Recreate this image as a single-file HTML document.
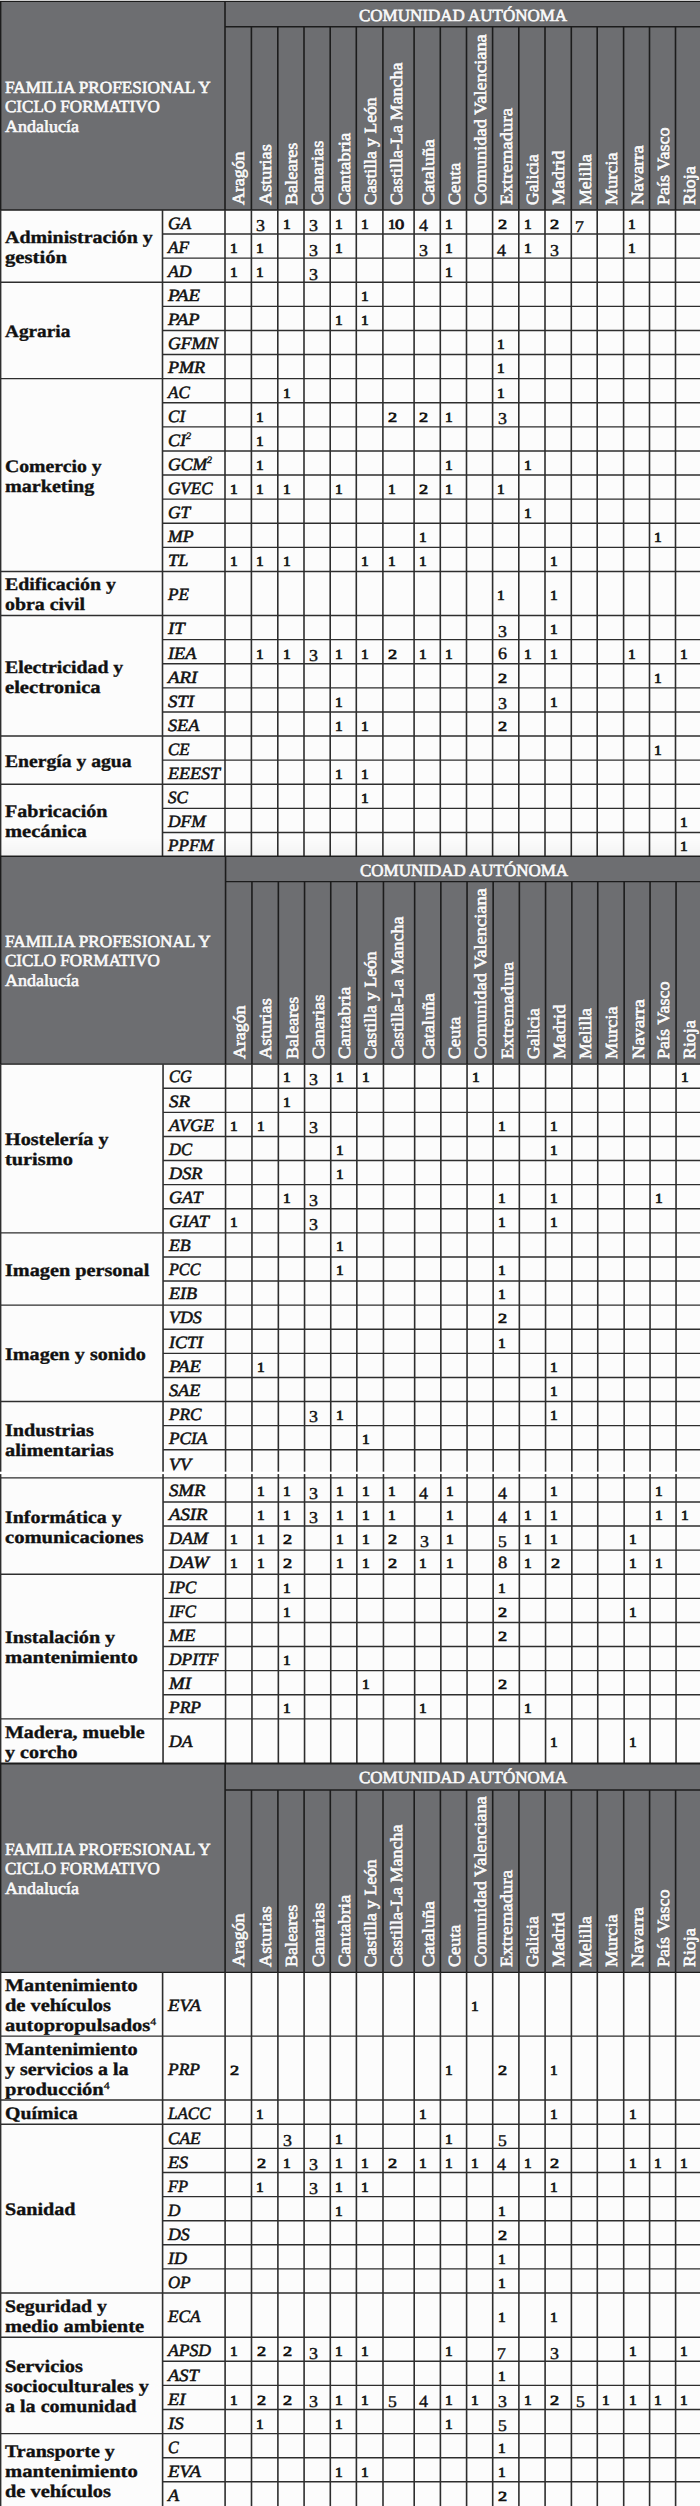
<!DOCTYPE html>
<html lang="es"><head><meta charset="utf-8"><title>Tabla ciclos formativos</title>
<style>
html,body{margin:0;padding:0;background:#fcfcfc;overflow:hidden;}
#p{position:relative;width:700px;height:2506px;overflow:hidden;background:#fcfcfc;font-family:"Liberation Serif",serif;}
#p svg{position:absolute;left:0;top:0;}
#p svg{overflow:visible;}
#tx{position:absolute;left:0;top:0;width:700px;height:2506px;}
.t{position:absolute;white-space:nowrap;line-height:1;transform-origin:0 0;margin:0;padding:0;text-rendering:geometricPrecision;}
.t sup{font-size:0.57em;vertical-align:baseline;position:relative;top:-0.72em;line-height:0;}
.cd sup{-webkit-text-stroke:0.4px #111;}
.fm sup{font-weight:normal;font-size:0.58em;top:-0.55em;-webkit-text-stroke:0.3px #111;}
.hd{font-size:17.0px;color:#fafafa;font-weight:normal;font-style:normal;-webkit-text-stroke:0.6px #fafafa;}
.fm{font-size:17.6px;color:#111;font-weight:bold;font-style:normal;-webkit-text-stroke:0.35px #111;}
.cd{font-size:17.2px;color:#111;font-weight:normal;font-style:italic;-webkit-text-stroke:0.55px #111;}
.dn{font-size:17.4px;color:#111;font-weight:normal;font-style:normal;}
.ds{font-size:14.0px;color:#111;font-weight:normal;font-style:normal;-webkit-text-stroke:0.7px #111;}
.dd{font-size:16.6px;color:#111;font-weight:normal;font-style:normal;-webkit-text-stroke:0.4px #111;}
.da{font-size:17.2px;color:#111;font-weight:normal;font-style:normal;-webkit-text-stroke:0.4px #111;}
.d4{font-size:17.2px;color:#111;font-weight:normal;font-style:normal;-webkit-text-stroke:0.4px #111;}
</style></head><body>
<div id="p">
<svg width="700" height="2506" viewBox="0 0 700 2506">
<rect x="-5.00" y="1.40" width="710.00" height="208.55" fill="#6d6e71"/><line x1="-5.00" y1="1.40" x2="705.00" y2="1.40" stroke="#1c1c1c" stroke-width="1.4"/><line x1="225.00" y1="26.80" x2="705.00" y2="26.80" stroke="#1c1c1c" stroke-width="1.4"/><line x1="-5.00" y1="209.95" x2="705.00" y2="209.95" stroke="#1c1c1c" stroke-width="1.4"/><line x1="0.60" y1="1.40" x2="0.60" y2="209.95" stroke="#1c1c1c" stroke-width="1.6"/><line x1="225.00" y1="1.40" x2="225.00" y2="209.95" stroke="#1c1c1c" stroke-width="1.6"/><line x1="251.40" y1="26.80" x2="251.40" y2="209.95" stroke="#1c1c1c" stroke-width="1.6"/><line x1="277.80" y1="26.80" x2="277.80" y2="209.95" stroke="#1c1c1c" stroke-width="1.6"/><line x1="304.00" y1="26.80" x2="304.00" y2="209.95" stroke="#1c1c1c" stroke-width="1.6"/><line x1="330.20" y1="26.80" x2="330.20" y2="209.95" stroke="#1c1c1c" stroke-width="1.6"/><line x1="356.30" y1="26.80" x2="356.30" y2="209.95" stroke="#1c1c1c" stroke-width="1.6"/><line x1="382.90" y1="26.80" x2="382.90" y2="209.95" stroke="#1c1c1c" stroke-width="1.6"/><line x1="414.10" y1="26.80" x2="414.10" y2="209.95" stroke="#1c1c1c" stroke-width="1.6"/><line x1="440.30" y1="26.80" x2="440.30" y2="209.95" stroke="#1c1c1c" stroke-width="1.6"/><line x1="466.50" y1="26.80" x2="466.50" y2="209.95" stroke="#1c1c1c" stroke-width="1.6"/><line x1="492.60" y1="26.80" x2="492.60" y2="209.95" stroke="#1c1c1c" stroke-width="1.6"/><line x1="518.80" y1="26.80" x2="518.80" y2="209.95" stroke="#1c1c1c" stroke-width="1.6"/><line x1="545.00" y1="26.80" x2="545.00" y2="209.95" stroke="#1c1c1c" stroke-width="1.6"/><line x1="571.30" y1="26.80" x2="571.30" y2="209.95" stroke="#1c1c1c" stroke-width="1.6"/><line x1="597.20" y1="26.80" x2="597.20" y2="209.95" stroke="#1c1c1c" stroke-width="1.6"/><line x1="623.60" y1="26.80" x2="623.60" y2="209.95" stroke="#1c1c1c" stroke-width="1.6"/><line x1="649.50" y1="26.80" x2="649.50" y2="209.95" stroke="#1c1c1c" stroke-width="1.6"/><line x1="675.50" y1="26.80" x2="675.50" y2="209.95" stroke="#1c1c1c" stroke-width="1.6"/><line x1="162.50" y1="234.05" x2="705.00" y2="234.05" stroke="#2e2e2e" stroke-width="1.4"/><line x1="162.50" y1="258.15" x2="705.00" y2="258.15" stroke="#2e2e2e" stroke-width="1.4"/><line x1="0.60" y1="282.25" x2="705.00" y2="282.25" stroke="#2e2e2e" stroke-width="1.4"/><line x1="162.50" y1="306.35" x2="705.00" y2="306.35" stroke="#2e2e2e" stroke-width="1.4"/><line x1="162.50" y1="330.45" x2="705.00" y2="330.45" stroke="#2e2e2e" stroke-width="1.4"/><line x1="162.50" y1="354.55" x2="705.00" y2="354.55" stroke="#2e2e2e" stroke-width="1.4"/><line x1="0.60" y1="378.65" x2="705.00" y2="378.65" stroke="#2e2e2e" stroke-width="1.4"/><line x1="162.50" y1="402.75" x2="705.00" y2="402.75" stroke="#2e2e2e" stroke-width="1.4"/><line x1="162.50" y1="426.85" x2="705.00" y2="426.85" stroke="#2e2e2e" stroke-width="1.4"/><line x1="162.50" y1="450.95" x2="705.00" y2="450.95" stroke="#2e2e2e" stroke-width="1.4"/><line x1="162.50" y1="475.05" x2="705.00" y2="475.05" stroke="#2e2e2e" stroke-width="1.4"/><line x1="162.50" y1="499.15" x2="705.00" y2="499.15" stroke="#2e2e2e" stroke-width="1.4"/><line x1="162.50" y1="523.25" x2="705.00" y2="523.25" stroke="#2e2e2e" stroke-width="1.4"/><line x1="162.50" y1="547.35" x2="705.00" y2="547.35" stroke="#2e2e2e" stroke-width="1.4"/><line x1="0.60" y1="571.45" x2="705.00" y2="571.45" stroke="#2e2e2e" stroke-width="1.4"/><line x1="0.60" y1="615.55" x2="705.00" y2="615.55" stroke="#2e2e2e" stroke-width="1.4"/><line x1="162.50" y1="639.65" x2="705.00" y2="639.65" stroke="#2e2e2e" stroke-width="1.4"/><line x1="162.50" y1="663.75" x2="705.00" y2="663.75" stroke="#2e2e2e" stroke-width="1.4"/><line x1="162.50" y1="687.85" x2="705.00" y2="687.85" stroke="#2e2e2e" stroke-width="1.4"/><line x1="162.50" y1="711.95" x2="705.00" y2="711.95" stroke="#2e2e2e" stroke-width="1.4"/><line x1="0.60" y1="736.05" x2="705.00" y2="736.05" stroke="#2e2e2e" stroke-width="1.4"/><line x1="162.50" y1="760.15" x2="705.00" y2="760.15" stroke="#2e2e2e" stroke-width="1.4"/><line x1="0.60" y1="784.25" x2="705.00" y2="784.25" stroke="#2e2e2e" stroke-width="1.4"/><line x1="162.50" y1="808.35" x2="705.00" y2="808.35" stroke="#2e2e2e" stroke-width="1.4"/><line x1="162.50" y1="832.45" x2="705.00" y2="832.45" stroke="#2e2e2e" stroke-width="1.4"/><line x1="0.60" y1="209.95" x2="0.60" y2="856.55" stroke="#2e2e2e" stroke-width="1.6"/><line x1="162.50" y1="209.95" x2="162.50" y2="856.55" stroke="#2e2e2e" stroke-width="1.6"/><line x1="225.00" y1="209.95" x2="225.00" y2="856.55" stroke="#2e2e2e" stroke-width="1.6"/><line x1="251.40" y1="209.95" x2="251.40" y2="856.55" stroke="#2e2e2e" stroke-width="1.6"/><line x1="277.80" y1="209.95" x2="277.80" y2="856.55" stroke="#2e2e2e" stroke-width="1.6"/><line x1="304.00" y1="209.95" x2="304.00" y2="856.55" stroke="#2e2e2e" stroke-width="1.6"/><line x1="330.20" y1="209.95" x2="330.20" y2="856.55" stroke="#2e2e2e" stroke-width="1.6"/><line x1="356.30" y1="209.95" x2="356.30" y2="856.55" stroke="#2e2e2e" stroke-width="1.6"/><line x1="382.90" y1="209.95" x2="382.90" y2="856.55" stroke="#2e2e2e" stroke-width="1.6"/><line x1="414.10" y1="209.95" x2="414.10" y2="856.55" stroke="#2e2e2e" stroke-width="1.6"/><line x1="440.30" y1="209.95" x2="440.30" y2="856.55" stroke="#2e2e2e" stroke-width="1.6"/><line x1="466.50" y1="209.95" x2="466.50" y2="856.55" stroke="#2e2e2e" stroke-width="1.6"/><line x1="492.60" y1="209.95" x2="492.60" y2="856.55" stroke="#2e2e2e" stroke-width="1.6"/><line x1="518.80" y1="209.95" x2="518.80" y2="856.55" stroke="#2e2e2e" stroke-width="1.6"/><line x1="545.00" y1="209.95" x2="545.00" y2="856.55" stroke="#2e2e2e" stroke-width="1.6"/><line x1="571.30" y1="209.95" x2="571.30" y2="856.55" stroke="#2e2e2e" stroke-width="1.6"/><line x1="597.20" y1="209.95" x2="597.20" y2="856.55" stroke="#2e2e2e" stroke-width="1.6"/><line x1="623.60" y1="209.95" x2="623.60" y2="856.55" stroke="#2e2e2e" stroke-width="1.6"/><line x1="649.50" y1="209.95" x2="649.50" y2="856.55" stroke="#2e2e2e" stroke-width="1.6"/><line x1="675.50" y1="209.95" x2="675.50" y2="856.55" stroke="#2e2e2e" stroke-width="1.6"/><rect x="-5.00" y="856.20" width="710.00" height="207.95" fill="#6d6e71"/><line x1="-5.00" y1="856.20" x2="705.00" y2="856.20" stroke="#1c1c1c" stroke-width="1.4"/><line x1="225.55" y1="881.60" x2="705.00" y2="881.60" stroke="#1c1c1c" stroke-width="1.4"/><line x1="-5.00" y1="1064.15" x2="705.00" y2="1064.15" stroke="#1c1c1c" stroke-width="1.4"/><line x1="0.60" y1="856.20" x2="0.60" y2="1064.15" stroke="#1c1c1c" stroke-width="1.6"/><line x1="225.55" y1="856.20" x2="225.55" y2="1064.15" stroke="#1c1c1c" stroke-width="1.6"/><line x1="251.95" y1="881.60" x2="251.95" y2="1064.15" stroke="#1c1c1c" stroke-width="1.6"/><line x1="278.35" y1="881.60" x2="278.35" y2="1064.15" stroke="#1c1c1c" stroke-width="1.6"/><line x1="304.55" y1="881.60" x2="304.55" y2="1064.15" stroke="#1c1c1c" stroke-width="1.6"/><line x1="330.75" y1="881.60" x2="330.75" y2="1064.15" stroke="#1c1c1c" stroke-width="1.6"/><line x1="356.85" y1="881.60" x2="356.85" y2="1064.15" stroke="#1c1c1c" stroke-width="1.6"/><line x1="383.45" y1="881.60" x2="383.45" y2="1064.15" stroke="#1c1c1c" stroke-width="1.6"/><line x1="414.65" y1="881.60" x2="414.65" y2="1064.15" stroke="#1c1c1c" stroke-width="1.6"/><line x1="440.85" y1="881.60" x2="440.85" y2="1064.15" stroke="#1c1c1c" stroke-width="1.6"/><line x1="467.05" y1="881.60" x2="467.05" y2="1064.15" stroke="#1c1c1c" stroke-width="1.6"/><line x1="493.15" y1="881.60" x2="493.15" y2="1064.15" stroke="#1c1c1c" stroke-width="1.6"/><line x1="519.35" y1="881.60" x2="519.35" y2="1064.15" stroke="#1c1c1c" stroke-width="1.6"/><line x1="545.55" y1="881.60" x2="545.55" y2="1064.15" stroke="#1c1c1c" stroke-width="1.6"/><line x1="571.85" y1="881.60" x2="571.85" y2="1064.15" stroke="#1c1c1c" stroke-width="1.6"/><line x1="597.75" y1="881.60" x2="597.75" y2="1064.15" stroke="#1c1c1c" stroke-width="1.6"/><line x1="624.15" y1="881.60" x2="624.15" y2="1064.15" stroke="#1c1c1c" stroke-width="1.6"/><line x1="650.05" y1="881.60" x2="650.05" y2="1064.15" stroke="#1c1c1c" stroke-width="1.6"/><line x1="676.05" y1="881.60" x2="676.05" y2="1064.15" stroke="#1c1c1c" stroke-width="1.6"/><line x1="163.05" y1="1088.25" x2="705.00" y2="1088.25" stroke="#2e2e2e" stroke-width="1.4"/><line x1="163.05" y1="1112.35" x2="705.00" y2="1112.35" stroke="#2e2e2e" stroke-width="1.4"/><line x1="163.05" y1="1136.45" x2="705.00" y2="1136.45" stroke="#2e2e2e" stroke-width="1.4"/><line x1="163.05" y1="1160.55" x2="705.00" y2="1160.55" stroke="#2e2e2e" stroke-width="1.4"/><line x1="163.05" y1="1184.65" x2="705.00" y2="1184.65" stroke="#2e2e2e" stroke-width="1.4"/><line x1="163.05" y1="1208.75" x2="705.00" y2="1208.75" stroke="#2e2e2e" stroke-width="1.4"/><line x1="0.60" y1="1232.85" x2="705.00" y2="1232.85" stroke="#2e2e2e" stroke-width="1.4"/><line x1="163.05" y1="1256.95" x2="705.00" y2="1256.95" stroke="#2e2e2e" stroke-width="1.4"/><line x1="163.05" y1="1281.05" x2="705.00" y2="1281.05" stroke="#2e2e2e" stroke-width="1.4"/><line x1="0.60" y1="1305.15" x2="705.00" y2="1305.15" stroke="#2e2e2e" stroke-width="1.4"/><line x1="163.05" y1="1329.25" x2="705.00" y2="1329.25" stroke="#2e2e2e" stroke-width="1.4"/><line x1="163.05" y1="1353.35" x2="705.00" y2="1353.35" stroke="#2e2e2e" stroke-width="1.4"/><line x1="163.05" y1="1377.45" x2="705.00" y2="1377.45" stroke="#2e2e2e" stroke-width="1.4"/><line x1="0.60" y1="1401.55" x2="705.00" y2="1401.55" stroke="#2e2e2e" stroke-width="1.4"/><line x1="163.05" y1="1425.65" x2="705.00" y2="1425.65" stroke="#2e2e2e" stroke-width="1.4"/><line x1="163.05" y1="1449.75" x2="705.00" y2="1449.75" stroke="#2e2e2e" stroke-width="1.4"/><line x1="0.60" y1="1477.85" x2="705.00" y2="1477.85" stroke="#2e2e2e" stroke-width="1.4"/><line x1="163.05" y1="1501.95" x2="705.00" y2="1501.95" stroke="#2e2e2e" stroke-width="1.4"/><line x1="163.05" y1="1526.05" x2="705.00" y2="1526.05" stroke="#2e2e2e" stroke-width="1.4"/><line x1="163.05" y1="1550.15" x2="705.00" y2="1550.15" stroke="#2e2e2e" stroke-width="1.4"/><line x1="0.60" y1="1574.25" x2="705.00" y2="1574.25" stroke="#2e2e2e" stroke-width="1.4"/><line x1="163.05" y1="1598.35" x2="705.00" y2="1598.35" stroke="#2e2e2e" stroke-width="1.4"/><line x1="163.05" y1="1622.45" x2="705.00" y2="1622.45" stroke="#2e2e2e" stroke-width="1.4"/><line x1="163.05" y1="1646.55" x2="705.00" y2="1646.55" stroke="#2e2e2e" stroke-width="1.4"/><line x1="163.05" y1="1670.65" x2="705.00" y2="1670.65" stroke="#2e2e2e" stroke-width="1.4"/><line x1="163.05" y1="1694.75" x2="705.00" y2="1694.75" stroke="#2e2e2e" stroke-width="1.4"/><line x1="0.60" y1="1718.85" x2="705.00" y2="1718.85" stroke="#2e2e2e" stroke-width="1.4"/><line x1="0.60" y1="1064.15" x2="0.60" y2="1763.25" stroke="#2e2e2e" stroke-width="1.6"/><line x1="163.05" y1="1064.15" x2="163.05" y2="1763.25" stroke="#2e2e2e" stroke-width="1.6"/><line x1="225.55" y1="1064.15" x2="225.55" y2="1763.25" stroke="#2e2e2e" stroke-width="1.6"/><line x1="251.95" y1="1064.15" x2="251.95" y2="1763.25" stroke="#2e2e2e" stroke-width="1.6"/><line x1="278.35" y1="1064.15" x2="278.35" y2="1763.25" stroke="#2e2e2e" stroke-width="1.6"/><line x1="304.55" y1="1064.15" x2="304.55" y2="1763.25" stroke="#2e2e2e" stroke-width="1.6"/><line x1="330.75" y1="1064.15" x2="330.75" y2="1763.25" stroke="#2e2e2e" stroke-width="1.6"/><line x1="356.85" y1="1064.15" x2="356.85" y2="1763.25" stroke="#2e2e2e" stroke-width="1.6"/><line x1="383.45" y1="1064.15" x2="383.45" y2="1763.25" stroke="#2e2e2e" stroke-width="1.6"/><line x1="414.65" y1="1064.15" x2="414.65" y2="1763.25" stroke="#2e2e2e" stroke-width="1.6"/><line x1="440.85" y1="1064.15" x2="440.85" y2="1763.25" stroke="#2e2e2e" stroke-width="1.6"/><line x1="467.05" y1="1064.15" x2="467.05" y2="1763.25" stroke="#2e2e2e" stroke-width="1.6"/><line x1="493.15" y1="1064.15" x2="493.15" y2="1763.25" stroke="#2e2e2e" stroke-width="1.6"/><line x1="519.35" y1="1064.15" x2="519.35" y2="1763.25" stroke="#2e2e2e" stroke-width="1.6"/><line x1="545.55" y1="1064.15" x2="545.55" y2="1763.25" stroke="#2e2e2e" stroke-width="1.6"/><line x1="571.85" y1="1064.15" x2="571.85" y2="1763.25" stroke="#2e2e2e" stroke-width="1.6"/><line x1="597.75" y1="1064.15" x2="597.75" y2="1763.25" stroke="#2e2e2e" stroke-width="1.6"/><line x1="624.15" y1="1064.15" x2="624.15" y2="1763.25" stroke="#2e2e2e" stroke-width="1.6"/><line x1="650.05" y1="1064.15" x2="650.05" y2="1763.25" stroke="#2e2e2e" stroke-width="1.6"/><line x1="676.05" y1="1064.15" x2="676.05" y2="1763.25" stroke="#2e2e2e" stroke-width="1.6"/><rect x="-5.00" y="1763.50" width="710.00" height="208.90" fill="#6d6e71"/><line x1="-5.00" y1="1763.50" x2="705.00" y2="1763.50" stroke="#1c1c1c" stroke-width="2.0"/><line x1="225.10" y1="1790.00" x2="705.00" y2="1790.00" stroke="#1c1c1c" stroke-width="1.4"/><line x1="-5.00" y1="1972.40" x2="705.00" y2="1972.40" stroke="#1c1c1c" stroke-width="1.4"/><line x1="0.60" y1="1763.50" x2="0.60" y2="1972.40" stroke="#1c1c1c" stroke-width="1.6"/><line x1="225.10" y1="1763.50" x2="225.10" y2="1972.40" stroke="#1c1c1c" stroke-width="1.6"/><line x1="251.50" y1="1790.00" x2="251.50" y2="1972.40" stroke="#1c1c1c" stroke-width="1.6"/><line x1="277.90" y1="1790.00" x2="277.90" y2="1972.40" stroke="#1c1c1c" stroke-width="1.6"/><line x1="304.10" y1="1790.00" x2="304.10" y2="1972.40" stroke="#1c1c1c" stroke-width="1.6"/><line x1="330.30" y1="1790.00" x2="330.30" y2="1972.40" stroke="#1c1c1c" stroke-width="1.6"/><line x1="356.40" y1="1790.00" x2="356.40" y2="1972.40" stroke="#1c1c1c" stroke-width="1.6"/><line x1="383.00" y1="1790.00" x2="383.00" y2="1972.40" stroke="#1c1c1c" stroke-width="1.6"/><line x1="414.20" y1="1790.00" x2="414.20" y2="1972.40" stroke="#1c1c1c" stroke-width="1.6"/><line x1="440.40" y1="1790.00" x2="440.40" y2="1972.40" stroke="#1c1c1c" stroke-width="1.6"/><line x1="466.60" y1="1790.00" x2="466.60" y2="1972.40" stroke="#1c1c1c" stroke-width="1.6"/><line x1="492.70" y1="1790.00" x2="492.70" y2="1972.40" stroke="#1c1c1c" stroke-width="1.6"/><line x1="518.90" y1="1790.00" x2="518.90" y2="1972.40" stroke="#1c1c1c" stroke-width="1.6"/><line x1="545.10" y1="1790.00" x2="545.10" y2="1972.40" stroke="#1c1c1c" stroke-width="1.6"/><line x1="571.40" y1="1790.00" x2="571.40" y2="1972.40" stroke="#1c1c1c" stroke-width="1.6"/><line x1="597.30" y1="1790.00" x2="597.30" y2="1972.40" stroke="#1c1c1c" stroke-width="1.6"/><line x1="623.70" y1="1790.00" x2="623.70" y2="1972.40" stroke="#1c1c1c" stroke-width="1.6"/><line x1="649.60" y1="1790.00" x2="649.60" y2="1972.40" stroke="#1c1c1c" stroke-width="1.6"/><line x1="675.60" y1="1790.00" x2="675.60" y2="1972.40" stroke="#1c1c1c" stroke-width="1.6"/><line x1="0.60" y1="2036.10" x2="705.00" y2="2036.10" stroke="#2e2e2e" stroke-width="1.4"/><line x1="0.60" y1="2100.00" x2="705.00" y2="2100.00" stroke="#2e2e2e" stroke-width="1.4"/><line x1="0.60" y1="2124.30" x2="705.00" y2="2124.30" stroke="#2e2e2e" stroke-width="1.4"/><line x1="162.60" y1="2148.40" x2="705.00" y2="2148.40" stroke="#2e2e2e" stroke-width="1.4"/><line x1="162.60" y1="2172.50" x2="705.00" y2="2172.50" stroke="#2e2e2e" stroke-width="1.4"/><line x1="162.60" y1="2196.60" x2="705.00" y2="2196.60" stroke="#2e2e2e" stroke-width="1.4"/><line x1="162.60" y1="2220.70" x2="705.00" y2="2220.70" stroke="#2e2e2e" stroke-width="1.4"/><line x1="162.60" y1="2244.80" x2="705.00" y2="2244.80" stroke="#2e2e2e" stroke-width="1.4"/><line x1="162.60" y1="2268.90" x2="705.00" y2="2268.90" stroke="#2e2e2e" stroke-width="1.4"/><line x1="0.60" y1="2293.00" x2="705.00" y2="2293.00" stroke="#2e2e2e" stroke-width="1.4"/><line x1="0.60" y1="2337.20" x2="705.00" y2="2337.20" stroke="#2e2e2e" stroke-width="1.4"/><line x1="162.60" y1="2361.30" x2="705.00" y2="2361.30" stroke="#2e2e2e" stroke-width="1.4"/><line x1="162.60" y1="2385.40" x2="705.00" y2="2385.40" stroke="#2e2e2e" stroke-width="1.4"/><line x1="162.60" y1="2409.50" x2="705.00" y2="2409.50" stroke="#2e2e2e" stroke-width="1.4"/><line x1="0.60" y1="2433.60" x2="705.00" y2="2433.60" stroke="#2e2e2e" stroke-width="1.4"/><line x1="162.60" y1="2457.70" x2="705.00" y2="2457.70" stroke="#2e2e2e" stroke-width="1.4"/><line x1="162.60" y1="2481.80" x2="705.00" y2="2481.80" stroke="#2e2e2e" stroke-width="1.4"/><line x1="0.60" y1="1972.40" x2="0.60" y2="2512.40" stroke="#2e2e2e" stroke-width="1.6"/><line x1="162.60" y1="1972.40" x2="162.60" y2="2512.40" stroke="#2e2e2e" stroke-width="1.6"/><line x1="225.10" y1="1972.40" x2="225.10" y2="2512.40" stroke="#2e2e2e" stroke-width="1.6"/><line x1="251.50" y1="1972.40" x2="251.50" y2="2512.40" stroke="#2e2e2e" stroke-width="1.6"/><line x1="277.90" y1="1972.40" x2="277.90" y2="2512.40" stroke="#2e2e2e" stroke-width="1.6"/><line x1="304.10" y1="1972.40" x2="304.10" y2="2512.40" stroke="#2e2e2e" stroke-width="1.6"/><line x1="330.30" y1="1972.40" x2="330.30" y2="2512.40" stroke="#2e2e2e" stroke-width="1.6"/><line x1="356.40" y1="1972.40" x2="356.40" y2="2512.40" stroke="#2e2e2e" stroke-width="1.6"/><line x1="383.00" y1="1972.40" x2="383.00" y2="2512.40" stroke="#2e2e2e" stroke-width="1.6"/><line x1="414.20" y1="1972.40" x2="414.20" y2="2512.40" stroke="#2e2e2e" stroke-width="1.6"/><line x1="440.40" y1="1972.40" x2="440.40" y2="2512.40" stroke="#2e2e2e" stroke-width="1.6"/><line x1="466.60" y1="1972.40" x2="466.60" y2="2512.40" stroke="#2e2e2e" stroke-width="1.6"/><line x1="492.70" y1="1972.40" x2="492.70" y2="2512.40" stroke="#2e2e2e" stroke-width="1.6"/><line x1="518.90" y1="1972.40" x2="518.90" y2="2512.40" stroke="#2e2e2e" stroke-width="1.6"/><line x1="545.10" y1="1972.40" x2="545.10" y2="2512.40" stroke="#2e2e2e" stroke-width="1.6"/><line x1="571.40" y1="1972.40" x2="571.40" y2="2512.40" stroke="#2e2e2e" stroke-width="1.6"/><line x1="597.30" y1="1972.40" x2="597.30" y2="2512.40" stroke="#2e2e2e" stroke-width="1.6"/><line x1="623.70" y1="1972.40" x2="623.70" y2="2512.40" stroke="#2e2e2e" stroke-width="1.6"/><line x1="649.60" y1="1972.40" x2="649.60" y2="2512.40" stroke="#2e2e2e" stroke-width="1.6"/><line x1="675.60" y1="1972.40" x2="675.60" y2="2512.40" stroke="#2e2e2e" stroke-width="1.6"/><defs><linearGradient id="sh" x1="0" y1="0" x2="0" y2="1"><stop offset="0" stop-color="#000" stop-opacity="0"/><stop offset="1" stop-color="#000" stop-opacity="0.035"/></linearGradient></defs><rect x="2" y="838" width="700" height="17" fill="url(#sh)"/><rect x="0" y="0" width="700" height="0.8" fill="#d4d4d4"/><rect x="0" y="1471.7" width="700" height="2.4" fill="#ffffff"/>
</svg>
<div id="tx">
<div class="t hd" style="left:5.00px;top:79.00px;transform:scaleX(1.0117);">FAMILIA PROFESIONAL Y</div>
<div class="t hd" style="left:5.00px;top:98.00px;transform:scaleX(1.0022);">CICLO FORMATIVO</div>
<div class="t hd" style="left:5.00px;top:118.00px;transform:scaleX(1.0579);">Andalucía</div>
<div class="t hd" style="left:359.00px;top:7.00px;transform:scaleX(0.9994);">COMUNIDAD AUTÓNOMA</div>
<div class="t hd" style="left:244.00px;top:190.95px;transform-origin:0 14.00px;transform:rotate(-90deg) scaleX(1.0497);">Aragón</div>
<div class="t hd" style="left:271.00px;top:190.95px;transform-origin:0 14.00px;transform:rotate(-90deg) scaleX(1.0727);">Asturias</div>
<div class="t hd" style="left:297.00px;top:190.95px;transform-origin:0 14.00px;transform:rotate(-90deg) scaleX(1.0652);">Baleares</div>
<div class="t hd" style="left:323.00px;top:190.95px;transform-origin:0 14.00px;transform:rotate(-90deg) scaleX(1.0828);">Canarias</div>
<div class="t hd" style="left:350.00px;top:190.95px;transform-origin:0 14.00px;transform:rotate(-90deg) scaleX(1.0933);">Cantabria</div>
<div class="t hd" style="left:376.00px;top:190.95px;transform-origin:0 14.00px;transform:rotate(-90deg) scaleX(1.0360);">Castilla y León</div>
<div class="t hd" style="left:402.00px;top:190.95px;transform-origin:0 14.00px;transform:rotate(-90deg) scaleX(1.0585);">Castilla-La Mancha</div>
<div class="t hd" style="left:434.00px;top:190.95px;transform-origin:0 14.00px;transform:rotate(-90deg) scaleX(1.0855);">Cataluña</div>
<div class="t hd" style="left:460.00px;top:190.95px;transform-origin:0 14.00px;transform:rotate(-90deg) scaleX(1.0670);">Ceuta</div>
<div class="t hd" style="left:486.00px;top:190.95px;transform-origin:0 14.00px;transform:rotate(-90deg) scaleX(1.0820);">Comunidad Valenciana</div>
<div class="t hd" style="left:512.00px;top:190.95px;transform-origin:0 14.00px;transform:rotate(-90deg) scaleX(1.1046);">Extremadura</div>
<div class="t hd" style="left:538.00px;top:190.95px;transform-origin:0 14.00px;transform:rotate(-90deg) scaleX(1.0343);">Galicia</div>
<div class="t hd" style="left:564.00px;top:190.95px;transform-origin:0 14.00px;transform:rotate(-90deg) scaleX(1.0889);">Madrid</div>
<div class="t hd" style="left:591.00px;top:190.95px;transform-origin:0 14.00px;transform:rotate(-90deg) scaleX(1.0364);">Melilla</div>
<div class="t hd" style="left:617.00px;top:190.95px;transform-origin:0 14.00px;transform:rotate(-90deg) scaleX(1.0698);">Murcia</div>
<div class="t hd" style="left:643.00px;top:190.95px;transform-origin:0 14.00px;transform:rotate(-90deg) scaleX(1.0903);">Navarra</div>
<div class="t hd" style="left:669.00px;top:190.95px;transform-origin:0 14.00px;transform:rotate(-90deg) scaleX(1.0644);">País Vasco</div>
<div class="t hd" style="left:695.00px;top:190.95px;transform-origin:0 14.00px;transform:rotate(-90deg) scaleX(1.0493);">Rioja</div>
<div class="t cd" style="left:168.10px;top:215.00px;transform:scaleX(1.0110);">GA</div>
<div class="t dd" style="left:256.30px;top:218.00px;transform:scaleX(1.0800);">3</div>
<div class="t ds" style="left:282.60px;top:219.00px;transform:scaleX(1.1000);">1</div>
<div class="t dd" style="left:308.90px;top:218.00px;transform:scaleX(1.0800);">3</div>
<div class="t ds" style="left:335.00px;top:219.00px;transform:scaleX(1.1000);">1</div>
<div class="t ds" style="left:361.10px;top:219.00px;transform:scaleX(1.1000);">1</div>
<div class="t ds" style="left:387.70px;top:219.00px;transform:scaleX(1.1000);">1</div>
<div class="t ds" style="left:395.30px;top:219.00px;transform:scaleX(1.3200);">0</div>
<div class="t d4" style="left:418.80px;top:217.00px;transform:scaleX(1.0500);">4</div>
<div class="t ds" style="left:445.10px;top:219.00px;transform:scaleX(1.1000);">1</div>
<div class="t ds" style="left:497.60px;top:219.00px;transform:scaleX(1.3000);">2</div>
<div class="t ds" style="left:523.60px;top:219.00px;transform:scaleX(1.1000);">1</div>
<div class="t ds" style="left:550.00px;top:219.00px;transform:scaleX(1.3000);">2</div>
<div class="t dd" style="left:575.10px;top:219.00px;transform:scaleX(1.0800);">7</div>
<div class="t ds" style="left:628.40px;top:219.00px;transform:scaleX(1.1000);">1</div>
<div class="t cd" style="left:168.10px;top:239.00px;transform:scaleX(1.0039);">AF</div>
<div class="t ds" style="left:229.80px;top:243.00px;transform:scaleX(1.1000);">1</div>
<div class="t ds" style="left:256.20px;top:243.00px;transform:scaleX(1.1000);">1</div>
<div class="t dd" style="left:308.90px;top:243.00px;transform:scaleX(1.0800);">3</div>
<div class="t ds" style="left:335.00px;top:243.00px;transform:scaleX(1.1000);">1</div>
<div class="t dd" style="left:419.00px;top:243.00px;transform:scaleX(1.0800);">3</div>
<div class="t ds" style="left:445.10px;top:243.00px;transform:scaleX(1.1000);">1</div>
<div class="t d4" style="left:497.30px;top:242.00px;transform:scaleX(1.0500);">4</div>
<div class="t ds" style="left:523.60px;top:243.00px;transform:scaleX(1.1000);">1</div>
<div class="t dd" style="left:549.90px;top:243.00px;transform:scaleX(1.0800);">3</div>
<div class="t ds" style="left:628.40px;top:243.00px;transform:scaleX(1.1000);">1</div>
<div class="t cd" style="left:168.10px;top:263.00px;transform:scaleX(1.0291);">AD</div>
<div class="t ds" style="left:229.80px;top:267.00px;transform:scaleX(1.1000);">1</div>
<div class="t ds" style="left:256.20px;top:267.00px;transform:scaleX(1.1000);">1</div>
<div class="t dd" style="left:308.90px;top:267.00px;transform:scaleX(1.0800);">3</div>
<div class="t ds" style="left:445.10px;top:267.00px;transform:scaleX(1.1000);">1</div>
<div class="t fm" style="left:4.80px;top:229.00px;transform:scaleX(1.1329);">Administración y</div>
<div class="t fm" style="left:4.80px;top:249.00px;transform:scaleX(1.1745);">gestión</div>
<div class="t cd" style="left:168.10px;top:287.00px;transform:scaleX(1.0964);">PAE</div>
<div class="t ds" style="left:361.10px;top:291.00px;transform:scaleX(1.1000);">1</div>
<div class="t cd" style="left:168.10px;top:311.00px;transform:scaleX(1.0720);">PAP</div>
<div class="t ds" style="left:335.00px;top:315.00px;transform:scaleX(1.1000);">1</div>
<div class="t ds" style="left:361.10px;top:315.00px;transform:scaleX(1.1000);">1</div>
<div class="t cd" style="left:168.10px;top:335.00px;transform:scaleX(1.0290);">GFMN</div>
<div class="t ds" style="left:497.40px;top:339.00px;transform:scaleX(1.1000);">1</div>
<div class="t cd" style="left:168.10px;top:359.00px;transform:scaleX(1.0525);">PMR</div>
<div class="t ds" style="left:497.40px;top:363.00px;transform:scaleX(1.1000);">1</div>
<div class="t fm" style="left:4.80px;top:323.00px;transform:scaleX(1.0949);">Agraria</div>
<div class="t cd" style="left:168.10px;top:384.00px;transform:scaleX(0.9921);">AC</div>
<div class="t ds" style="left:282.60px;top:388.00px;transform:scaleX(1.1000);">1</div>
<div class="t ds" style="left:497.40px;top:388.00px;transform:scaleX(1.1000);">1</div>
<div class="t cd" style="left:168.10px;top:408.00px;transform:scaleX(0.9967);">CI</div>
<div class="t ds" style="left:256.20px;top:412.00px;transform:scaleX(1.1000);">1</div>
<div class="t ds" style="left:387.90px;top:412.00px;transform:scaleX(1.3000);">2</div>
<div class="t ds" style="left:419.10px;top:412.00px;transform:scaleX(1.3000);">2</div>
<div class="t ds" style="left:445.10px;top:412.00px;transform:scaleX(1.1000);">1</div>
<div class="t dd" style="left:497.50px;top:411.00px;transform:scaleX(1.0800);">3</div>
<div class="t cd" style="left:168.10px;top:432.00px;transform:scaleX(1.0459);">CI<sup>2</sup></div>
<div class="t ds" style="left:256.20px;top:436.00px;transform:scaleX(1.1000);">1</div>
<div class="t cd" style="left:168.10px;top:456.00px;transform:scaleX(1.0224);">GCM<sup>2</sup></div>
<div class="t ds" style="left:256.20px;top:460.00px;transform:scaleX(1.1000);">1</div>
<div class="t ds" style="left:445.10px;top:460.00px;transform:scaleX(1.1000);">1</div>
<div class="t ds" style="left:523.60px;top:460.00px;transform:scaleX(1.1000);">1</div>
<div class="t cd" style="left:168.10px;top:480.00px;transform:scaleX(0.9932);">GVEC</div>
<div class="t ds" style="left:229.80px;top:484.00px;transform:scaleX(1.1000);">1</div>
<div class="t ds" style="left:256.20px;top:484.00px;transform:scaleX(1.1000);">1</div>
<div class="t ds" style="left:282.60px;top:484.00px;transform:scaleX(1.1000);">1</div>
<div class="t ds" style="left:335.00px;top:484.00px;transform:scaleX(1.1000);">1</div>
<div class="t ds" style="left:387.70px;top:484.00px;transform:scaleX(1.1000);">1</div>
<div class="t ds" style="left:419.10px;top:484.00px;transform:scaleX(1.3000);">2</div>
<div class="t ds" style="left:445.10px;top:484.00px;transform:scaleX(1.1000);">1</div>
<div class="t ds" style="left:497.40px;top:484.00px;transform:scaleX(1.1000);">1</div>
<div class="t cd" style="left:168.10px;top:504.00px;transform:scaleX(1.0141);">GT</div>
<div class="t ds" style="left:523.60px;top:508.00px;transform:scaleX(1.1000);">1</div>
<div class="t cd" style="left:168.10px;top:528.00px;transform:scaleX(1.0283);">MP</div>
<div class="t ds" style="left:418.90px;top:532.00px;transform:scaleX(1.1000);">1</div>
<div class="t ds" style="left:654.30px;top:532.00px;transform:scaleX(1.1000);">1</div>
<div class="t cd" style="left:168.10px;top:552.00px;transform:scaleX(1.0607);">TL</div>
<div class="t ds" style="left:229.80px;top:556.00px;transform:scaleX(1.1000);">1</div>
<div class="t ds" style="left:256.20px;top:556.00px;transform:scaleX(1.1000);">1</div>
<div class="t ds" style="left:282.60px;top:556.00px;transform:scaleX(1.1000);">1</div>
<div class="t ds" style="left:361.10px;top:556.00px;transform:scaleX(1.1000);">1</div>
<div class="t ds" style="left:387.70px;top:556.00px;transform:scaleX(1.1000);">1</div>
<div class="t ds" style="left:418.90px;top:556.00px;transform:scaleX(1.1000);">1</div>
<div class="t ds" style="left:549.80px;top:556.00px;transform:scaleX(1.1000);">1</div>
<div class="t fm" style="left:4.80px;top:458.00px;transform:scaleX(1.1206);">Comercio y</div>
<div class="t fm" style="left:4.80px;top:478.00px;transform:scaleX(1.1429);">marketing</div>
<div class="t cd" style="left:168.10px;top:586.00px;transform:scaleX(0.9984);">PE</div>
<div class="t ds" style="left:497.40px;top:590.00px;transform:scaleX(1.1000);">1</div>
<div class="t ds" style="left:549.80px;top:590.00px;transform:scaleX(1.1000);">1</div>
<div class="t fm" style="left:4.80px;top:576.00px;transform:scaleX(1.1298);">Edificación y</div>
<div class="t fm" style="left:4.80px;top:596.00px;transform:scaleX(1.1298);">obra civil</div>
<div class="t cd" style="left:168.10px;top:620.00px;transform:scaleX(1.0939);">IT</div>
<div class="t dd" style="left:497.50px;top:624.00px;transform:scaleX(1.0800);">3</div>
<div class="t ds" style="left:549.80px;top:624.00px;transform:scaleX(1.1000);">1</div>
<div class="t cd" style="left:168.10px;top:645.00px;transform:scaleX(1.0643);">IEA</div>
<div class="t ds" style="left:256.20px;top:649.00px;transform:scaleX(1.1000);">1</div>
<div class="t ds" style="left:282.60px;top:649.00px;transform:scaleX(1.1000);">1</div>
<div class="t dd" style="left:308.90px;top:648.00px;transform:scaleX(1.0800);">3</div>
<div class="t ds" style="left:335.00px;top:649.00px;transform:scaleX(1.1000);">1</div>
<div class="t ds" style="left:361.10px;top:649.00px;transform:scaleX(1.1000);">1</div>
<div class="t ds" style="left:387.90px;top:649.00px;transform:scaleX(1.3000);">2</div>
<div class="t ds" style="left:418.90px;top:649.00px;transform:scaleX(1.1000);">1</div>
<div class="t ds" style="left:445.10px;top:649.00px;transform:scaleX(1.1000);">1</div>
<div class="t da" style="left:497.50px;top:645.00px;transform:scaleX(1.0500);">6</div>
<div class="t ds" style="left:523.60px;top:649.00px;transform:scaleX(1.1000);">1</div>
<div class="t ds" style="left:549.80px;top:649.00px;transform:scaleX(1.1000);">1</div>
<div class="t ds" style="left:628.40px;top:649.00px;transform:scaleX(1.1000);">1</div>
<div class="t ds" style="left:680.30px;top:649.00px;transform:scaleX(1.1000);">1</div>
<div class="t cd" style="left:168.10px;top:669.00px;transform:scaleX(1.0947);">ARI</div>
<div class="t ds" style="left:497.60px;top:673.00px;transform:scaleX(1.3000);">2</div>
<div class="t ds" style="left:654.30px;top:673.00px;transform:scaleX(1.1000);">1</div>
<div class="t cd" style="left:168.10px;top:693.00px;transform:scaleX(1.0902);">STI</div>
<div class="t ds" style="left:335.00px;top:697.00px;transform:scaleX(1.1000);">1</div>
<div class="t dd" style="left:497.50px;top:696.00px;transform:scaleX(1.0800);">3</div>
<div class="t ds" style="left:549.80px;top:697.00px;transform:scaleX(1.1000);">1</div>
<div class="t cd" style="left:168.10px;top:717.00px;transform:scaleX(1.0574);">SEA</div>
<div class="t ds" style="left:335.00px;top:721.00px;transform:scaleX(1.1000);">1</div>
<div class="t ds" style="left:361.10px;top:721.00px;transform:scaleX(1.1000);">1</div>
<div class="t ds" style="left:497.60px;top:721.00px;transform:scaleX(1.3000);">2</div>
<div class="t fm" style="left:4.80px;top:659.00px;transform:scaleX(1.1255);">Electricidad y</div>
<div class="t fm" style="left:4.80px;top:679.00px;transform:scaleX(1.1703);">electronica</div>
<div class="t cd" style="left:168.10px;top:741.00px;transform:scaleX(0.9785);">CE</div>
<div class="t ds" style="left:654.30px;top:745.00px;transform:scaleX(1.1000);">1</div>
<div class="t cd" style="left:168.10px;top:765.00px;transform:scaleX(1.0490);">EEEST</div>
<div class="t ds" style="left:335.00px;top:769.00px;transform:scaleX(1.1000);">1</div>
<div class="t ds" style="left:361.10px;top:769.00px;transform:scaleX(1.1000);">1</div>
<div class="t fm" style="left:4.80px;top:753.00px;transform:scaleX(1.1166);">Energía y agua</div>
<div class="t cd" style="left:168.10px;top:789.00px;transform:scaleX(0.9954);">SC</div>
<div class="t ds" style="left:361.10px;top:793.00px;transform:scaleX(1.1000);">1</div>
<div class="t cd" style="left:168.10px;top:813.00px;transform:scaleX(1.0151);">DFM</div>
<div class="t ds" style="left:680.30px;top:817.00px;transform:scaleX(1.1000);">1</div>
<div class="t cd" style="left:168.10px;top:837.00px;transform:scaleX(0.9950);">PPFM</div>
<div class="t ds" style="left:680.30px;top:841.00px;transform:scaleX(1.1000);">1</div>
<div class="t fm" style="left:4.80px;top:803.00px;transform:scaleX(1.1388);">Fabricación</div>
<div class="t fm" style="left:4.80px;top:823.00px;transform:scaleX(1.1635);">mecánica</div>
<div class="t hd" style="left:5.00px;top:933.00px;transform:scaleX(1.0117);">FAMILIA PROFESIONAL Y</div>
<div class="t hd" style="left:5.00px;top:952.00px;transform:scaleX(1.0022);">CICLO FORMATIVO</div>
<div class="t hd" style="left:5.00px;top:972.00px;transform:scaleX(1.0579);">Andalucía</div>
<div class="t hd" style="left:360.10px;top:862.00px;transform:scaleX(0.9994);">COMUNIDAD AUTÓNOMA</div>
<div class="t hd" style="left:245.00px;top:1045.15px;transform-origin:0 14.00px;transform:rotate(-90deg) scaleX(1.0497);">Aragón</div>
<div class="t hd" style="left:271.00px;top:1045.15px;transform-origin:0 14.00px;transform:rotate(-90deg) scaleX(1.0727);">Asturias</div>
<div class="t hd" style="left:298.00px;top:1045.15px;transform-origin:0 14.00px;transform:rotate(-90deg) scaleX(1.0652);">Baleares</div>
<div class="t hd" style="left:324.00px;top:1045.15px;transform-origin:0 14.00px;transform:rotate(-90deg) scaleX(1.0828);">Canarias</div>
<div class="t hd" style="left:350.00px;top:1045.15px;transform-origin:0 14.00px;transform:rotate(-90deg) scaleX(1.0933);">Cantabria</div>
<div class="t hd" style="left:376.00px;top:1045.15px;transform-origin:0 14.00px;transform:rotate(-90deg) scaleX(1.0360);">Castilla y León</div>
<div class="t hd" style="left:403.00px;top:1045.15px;transform-origin:0 14.00px;transform:rotate(-90deg) scaleX(1.0585);">Castilla-La Mancha</div>
<div class="t hd" style="left:434.00px;top:1045.15px;transform-origin:0 14.00px;transform:rotate(-90deg) scaleX(1.0855);">Cataluña</div>
<div class="t hd" style="left:460.00px;top:1045.15px;transform-origin:0 14.00px;transform:rotate(-90deg) scaleX(1.0670);">Ceuta</div>
<div class="t hd" style="left:486.00px;top:1045.15px;transform-origin:0 14.00px;transform:rotate(-90deg) scaleX(1.0820);">Comunidad Valenciana</div>
<div class="t hd" style="left:513.00px;top:1045.15px;transform-origin:0 14.00px;transform:rotate(-90deg) scaleX(1.1046);">Extremadura</div>
<div class="t hd" style="left:539.00px;top:1045.15px;transform-origin:0 14.00px;transform:rotate(-90deg) scaleX(1.0343);">Galicia</div>
<div class="t hd" style="left:565.00px;top:1045.15px;transform-origin:0 14.00px;transform:rotate(-90deg) scaleX(1.0889);">Madrid</div>
<div class="t hd" style="left:591.00px;top:1045.15px;transform-origin:0 14.00px;transform:rotate(-90deg) scaleX(1.0364);">Melilla</div>
<div class="t hd" style="left:617.00px;top:1045.15px;transform-origin:0 14.00px;transform:rotate(-90deg) scaleX(1.0698);">Murcia</div>
<div class="t hd" style="left:644.00px;top:1045.15px;transform-origin:0 14.00px;transform:rotate(-90deg) scaleX(1.0903);">Navarra</div>
<div class="t hd" style="left:669.00px;top:1045.15px;transform-origin:0 14.00px;transform:rotate(-90deg) scaleX(1.0644);">País Vasco</div>
<div class="t hd" style="left:695.00px;top:1045.15px;transform-origin:0 14.00px;transform:rotate(-90deg) scaleX(1.0493);">Rioja</div>
<div class="t cd" style="left:168.65px;top:1068.00px;transform:scaleX(0.9498);">CG</div>
<div class="t ds" style="left:283.15px;top:1072.00px;transform:scaleX(1.1000);">1</div>
<div class="t dd" style="left:309.45px;top:1072.00px;transform:scaleX(1.0800);">3</div>
<div class="t ds" style="left:335.55px;top:1072.00px;transform:scaleX(1.1000);">1</div>
<div class="t ds" style="left:361.65px;top:1072.00px;transform:scaleX(1.1000);">1</div>
<div class="t ds" style="left:471.85px;top:1072.00px;transform:scaleX(1.1000);">1</div>
<div class="t ds" style="left:680.85px;top:1072.00px;transform:scaleX(1.1000);">1</div>
<div class="t cd" style="left:168.65px;top:1093.00px;transform:scaleX(1.0980);">SR</div>
<div class="t ds" style="left:283.15px;top:1097.00px;transform:scaleX(1.1000);">1</div>
<div class="t cd" style="left:168.65px;top:1117.00px;transform:scaleX(1.0462);">AVGE</div>
<div class="t ds" style="left:230.35px;top:1121.00px;transform:scaleX(1.1000);">1</div>
<div class="t ds" style="left:256.75px;top:1121.00px;transform:scaleX(1.1000);">1</div>
<div class="t dd" style="left:309.45px;top:1120.00px;transform:scaleX(1.0800);">3</div>
<div class="t ds" style="left:497.95px;top:1121.00px;transform:scaleX(1.1000);">1</div>
<div class="t ds" style="left:550.35px;top:1121.00px;transform:scaleX(1.1000);">1</div>
<div class="t cd" style="left:168.65px;top:1141.00px;transform:scaleX(0.9672);">DC</div>
<div class="t ds" style="left:335.55px;top:1145.00px;transform:scaleX(1.1000);">1</div>
<div class="t ds" style="left:550.35px;top:1145.00px;transform:scaleX(1.1000);">1</div>
<div class="t cd" style="left:168.65px;top:1165.00px;transform:scaleX(1.0603);">DSR</div>
<div class="t ds" style="left:335.55px;top:1169.00px;transform:scaleX(1.1000);">1</div>
<div class="t cd" style="left:168.65px;top:1189.00px;transform:scaleX(1.0499);">GAT</div>
<div class="t ds" style="left:283.15px;top:1193.00px;transform:scaleX(1.1000);">1</div>
<div class="t dd" style="left:309.45px;top:1193.00px;transform:scaleX(1.0800);">3</div>
<div class="t ds" style="left:497.95px;top:1193.00px;transform:scaleX(1.1000);">1</div>
<div class="t ds" style="left:550.35px;top:1193.00px;transform:scaleX(1.1000);">1</div>
<div class="t ds" style="left:654.85px;top:1193.00px;transform:scaleX(1.1000);">1</div>
<div class="t cd" style="left:168.65px;top:1213.00px;transform:scaleX(1.0624);">GIAT</div>
<div class="t ds" style="left:230.35px;top:1217.00px;transform:scaleX(1.1000);">1</div>
<div class="t dd" style="left:309.45px;top:1217.00px;transform:scaleX(1.0800);">3</div>
<div class="t ds" style="left:497.95px;top:1217.00px;transform:scaleX(1.1000);">1</div>
<div class="t ds" style="left:550.35px;top:1217.00px;transform:scaleX(1.1000);">1</div>
<div class="t fm" style="left:4.80px;top:1131.00px;transform:scaleX(1.1458);">Hostelería y</div>
<div class="t fm" style="left:4.80px;top:1151.00px;transform:scaleX(1.1565);">turismo</div>
<div class="t cd" style="left:168.65px;top:1237.00px;transform:scaleX(1.0332);">EB</div>
<div class="t ds" style="left:335.55px;top:1241.00px;transform:scaleX(1.1000);">1</div>
<div class="t cd" style="left:168.65px;top:1261.00px;transform:scaleX(0.9403);">PCC</div>
<div class="t ds" style="left:335.55px;top:1265.00px;transform:scaleX(1.1000);">1</div>
<div class="t ds" style="left:497.95px;top:1265.00px;transform:scaleX(1.1000);">1</div>
<div class="t cd" style="left:168.65px;top:1285.00px;transform:scaleX(1.0537);">EIB</div>
<div class="t ds" style="left:497.95px;top:1289.00px;transform:scaleX(1.1000);">1</div>
<div class="t fm" style="left:4.80px;top:1262.00px;transform:scaleX(1.1491);">Imagen personal</div>
<div class="t cd" style="left:168.65px;top:1309.00px;transform:scaleX(1.0408);">VDS</div>
<div class="t ds" style="left:498.15px;top:1313.00px;transform:scaleX(1.3000);">2</div>
<div class="t cd" style="left:168.65px;top:1334.00px;transform:scaleX(1.0425);">ICTI</div>
<div class="t ds" style="left:497.95px;top:1338.00px;transform:scaleX(1.1000);">1</div>
<div class="t cd" style="left:168.65px;top:1358.00px;transform:scaleX(1.0964);">PAE</div>
<div class="t ds" style="left:256.75px;top:1362.00px;transform:scaleX(1.1000);">1</div>
<div class="t ds" style="left:550.35px;top:1362.00px;transform:scaleX(1.1000);">1</div>
<div class="t cd" style="left:168.65px;top:1382.00px;transform:scaleX(1.0574);">SAE</div>
<div class="t ds" style="left:550.35px;top:1386.00px;transform:scaleX(1.1000);">1</div>
<div class="t fm" style="left:4.80px;top:1346.00px;transform:scaleX(1.1432);">Imagen y sonido</div>
<div class="t cd" style="left:168.65px;top:1406.00px;transform:scaleX(0.9990);">PRC</div>
<div class="t dd" style="left:309.45px;top:1409.00px;transform:scaleX(1.0800);">3</div>
<div class="t ds" style="left:335.55px;top:1410.00px;transform:scaleX(1.1000);">1</div>
<div class="t ds" style="left:550.35px;top:1410.00px;transform:scaleX(1.1000);">1</div>
<div class="t cd" style="left:168.65px;top:1430.00px;transform:scaleX(1.0055);">PCIA</div>
<div class="t ds" style="left:361.65px;top:1434.00px;transform:scaleX(1.1000);">1</div>
<div class="t cd" style="left:168.65px;top:1456.00px;transform:scaleX(1.0513);">VV</div>
<div class="t fm" style="left:4.80px;top:1422.00px;transform:scaleX(1.1497);">Industrias</div>
<div class="t fm" style="left:4.80px;top:1442.00px;transform:scaleX(1.1587);">alimentarias</div>
<div class="t cd" style="left:168.65px;top:1482.00px;transform:scaleX(1.0882);">SMR</div>
<div class="t ds" style="left:256.75px;top:1486.00px;transform:scaleX(1.1000);">1</div>
<div class="t ds" style="left:283.15px;top:1486.00px;transform:scaleX(1.1000);">1</div>
<div class="t dd" style="left:309.45px;top:1486.00px;transform:scaleX(1.0800);">3</div>
<div class="t ds" style="left:335.55px;top:1486.00px;transform:scaleX(1.1000);">1</div>
<div class="t ds" style="left:361.65px;top:1486.00px;transform:scaleX(1.1000);">1</div>
<div class="t ds" style="left:388.25px;top:1486.00px;transform:scaleX(1.1000);">1</div>
<div class="t d4" style="left:419.35px;top:1485.00px;transform:scaleX(1.0500);">4</div>
<div class="t ds" style="left:445.65px;top:1486.00px;transform:scaleX(1.1000);">1</div>
<div class="t d4" style="left:497.85px;top:1485.00px;transform:scaleX(1.0500);">4</div>
<div class="t ds" style="left:550.35px;top:1486.00px;transform:scaleX(1.1000);">1</div>
<div class="t ds" style="left:654.85px;top:1486.00px;transform:scaleX(1.1000);">1</div>
<div class="t cd" style="left:168.65px;top:1506.00px;transform:scaleX(1.0920);">ASIR</div>
<div class="t ds" style="left:256.75px;top:1510.00px;transform:scaleX(1.1000);">1</div>
<div class="t ds" style="left:283.15px;top:1510.00px;transform:scaleX(1.1000);">1</div>
<div class="t dd" style="left:309.45px;top:1510.00px;transform:scaleX(1.0800);">3</div>
<div class="t ds" style="left:335.55px;top:1510.00px;transform:scaleX(1.1000);">1</div>
<div class="t ds" style="left:361.65px;top:1510.00px;transform:scaleX(1.1000);">1</div>
<div class="t ds" style="left:388.25px;top:1510.00px;transform:scaleX(1.1000);">1</div>
<div class="t ds" style="left:445.65px;top:1510.00px;transform:scaleX(1.1000);">1</div>
<div class="t d4" style="left:497.85px;top:1509.00px;transform:scaleX(1.0500);">4</div>
<div class="t ds" style="left:524.15px;top:1510.00px;transform:scaleX(1.1000);">1</div>
<div class="t ds" style="left:550.35px;top:1510.00px;transform:scaleX(1.1000);">1</div>
<div class="t ds" style="left:654.85px;top:1510.00px;transform:scaleX(1.1000);">1</div>
<div class="t ds" style="left:680.85px;top:1510.00px;transform:scaleX(1.1000);">1</div>
<div class="t cd" style="left:168.65px;top:1530.00px;transform:scaleX(1.0472);">DAM</div>
<div class="t ds" style="left:230.35px;top:1534.00px;transform:scaleX(1.1000);">1</div>
<div class="t ds" style="left:256.75px;top:1534.00px;transform:scaleX(1.1000);">1</div>
<div class="t ds" style="left:283.35px;top:1534.00px;transform:scaleX(1.3000);">2</div>
<div class="t ds" style="left:335.55px;top:1534.00px;transform:scaleX(1.1000);">1</div>
<div class="t ds" style="left:361.65px;top:1534.00px;transform:scaleX(1.1000);">1</div>
<div class="t ds" style="left:388.45px;top:1534.00px;transform:scaleX(1.3000);">2</div>
<div class="t dd" style="left:419.55px;top:1534.00px;transform:scaleX(1.0800);">3</div>
<div class="t ds" style="left:445.65px;top:1534.00px;transform:scaleX(1.1000);">1</div>
<div class="t dd" style="left:498.05px;top:1534.00px;transform:scaleX(1.0600);">5</div>
<div class="t ds" style="left:524.15px;top:1534.00px;transform:scaleX(1.1000);">1</div>
<div class="t ds" style="left:550.35px;top:1534.00px;transform:scaleX(1.1000);">1</div>
<div class="t ds" style="left:628.95px;top:1534.00px;transform:scaleX(1.1000);">1</div>
<div class="t cd" style="left:168.65px;top:1554.00px;transform:scaleX(1.0878);">DAW</div>
<div class="t ds" style="left:230.35px;top:1558.00px;transform:scaleX(1.1000);">1</div>
<div class="t ds" style="left:256.75px;top:1558.00px;transform:scaleX(1.1000);">1</div>
<div class="t ds" style="left:283.35px;top:1558.00px;transform:scaleX(1.3000);">2</div>
<div class="t ds" style="left:335.55px;top:1558.00px;transform:scaleX(1.1000);">1</div>
<div class="t ds" style="left:361.65px;top:1558.00px;transform:scaleX(1.1000);">1</div>
<div class="t ds" style="left:388.45px;top:1558.00px;transform:scaleX(1.3000);">2</div>
<div class="t ds" style="left:419.45px;top:1558.00px;transform:scaleX(1.1000);">1</div>
<div class="t ds" style="left:445.65px;top:1558.00px;transform:scaleX(1.1000);">1</div>
<div class="t da" style="left:498.05px;top:1554.00px;transform:scaleX(1.0800);">8</div>
<div class="t ds" style="left:524.15px;top:1558.00px;transform:scaleX(1.1000);">1</div>
<div class="t ds" style="left:550.55px;top:1558.00px;transform:scaleX(1.3000);">2</div>
<div class="t ds" style="left:628.95px;top:1558.00px;transform:scaleX(1.1000);">1</div>
<div class="t ds" style="left:654.85px;top:1558.00px;transform:scaleX(1.1000);">1</div>
<div class="t fm" style="left:4.80px;top:1509.00px;transform:scaleX(1.1314);">Informática y</div>
<div class="t fm" style="left:4.80px;top:1529.00px;transform:scaleX(1.1711);">comunicaciones</div>
<div class="t cd" style="left:168.65px;top:1579.00px;transform:scaleX(0.9845);">IPC</div>
<div class="t ds" style="left:283.15px;top:1583.00px;transform:scaleX(1.1000);">1</div>
<div class="t ds" style="left:497.95px;top:1583.00px;transform:scaleX(1.1000);">1</div>
<div class="t cd" style="left:168.65px;top:1603.00px;transform:scaleX(0.9779);">IFC</div>
<div class="t ds" style="left:283.15px;top:1607.00px;transform:scaleX(1.1000);">1</div>
<div class="t ds" style="left:498.15px;top:1607.00px;transform:scaleX(1.3000);">2</div>
<div class="t ds" style="left:628.95px;top:1607.00px;transform:scaleX(1.1000);">1</div>
<div class="t cd" style="left:168.65px;top:1627.00px;transform:scaleX(1.0571);">ME</div>
<div class="t ds" style="left:498.15px;top:1631.00px;transform:scaleX(1.3000);">2</div>
<div class="t cd" style="left:168.65px;top:1651.00px;transform:scaleX(1.0113);">DPITF</div>
<div class="t ds" style="left:283.15px;top:1655.00px;transform:scaleX(1.1000);">1</div>
<div class="t cd" style="left:168.65px;top:1675.00px;transform:scaleX(1.0914);">MI</div>
<div class="t ds" style="left:361.65px;top:1679.00px;transform:scaleX(1.1000);">1</div>
<div class="t ds" style="left:498.15px;top:1679.00px;transform:scaleX(1.3000);">2</div>
<div class="t cd" style="left:168.65px;top:1699.00px;transform:scaleX(1.0129);">PRP</div>
<div class="t ds" style="left:283.15px;top:1703.00px;transform:scaleX(1.1000);">1</div>
<div class="t ds" style="left:419.45px;top:1703.00px;transform:scaleX(1.1000);">1</div>
<div class="t ds" style="left:524.15px;top:1703.00px;transform:scaleX(1.1000);">1</div>
<div class="t fm" style="left:4.80px;top:1629.00px;transform:scaleX(1.1443);">Instalación y</div>
<div class="t fm" style="left:4.80px;top:1649.00px;transform:scaleX(1.1710);">mantenimiento</div>
<div class="t cd" style="left:168.65px;top:1733.00px;transform:scaleX(1.0291);">DA</div>
<div class="t ds" style="left:550.35px;top:1737.00px;transform:scaleX(1.1000);">1</div>
<div class="t ds" style="left:628.95px;top:1737.00px;transform:scaleX(1.1000);">1</div>
<div class="t fm" style="left:4.80px;top:1724.00px;transform:scaleX(1.1346);">Madera, mueble</div>
<div class="t fm" style="left:4.80px;top:1744.00px;transform:scaleX(1.1382);">y corcho</div>
<div class="t hd" style="left:5.00px;top:1841.00px;transform:scaleX(1.0117);">FAMILIA PROFESIONAL Y</div>
<div class="t hd" style="left:5.00px;top:1860.00px;transform:scaleX(1.0022);">CICLO FORMATIVO</div>
<div class="t hd" style="left:5.00px;top:1880.00px;transform:scaleX(1.0579);">Andalucía</div>
<div class="t hd" style="left:359.20px;top:1769.00px;transform:scaleX(0.9994);">COMUNIDAD AUTÓNOMA</div>
<div class="t hd" style="left:244.00px;top:1953.40px;transform-origin:0 14.00px;transform:rotate(-90deg) scaleX(1.0497);">Aragón</div>
<div class="t hd" style="left:271.00px;top:1953.40px;transform-origin:0 14.00px;transform:rotate(-90deg) scaleX(1.0727);">Asturias</div>
<div class="t hd" style="left:297.00px;top:1953.40px;transform-origin:0 14.00px;transform:rotate(-90deg) scaleX(1.0652);">Baleares</div>
<div class="t hd" style="left:324.00px;top:1953.40px;transform-origin:0 14.00px;transform:rotate(-90deg) scaleX(1.0828);">Canarias</div>
<div class="t hd" style="left:350.00px;top:1953.40px;transform-origin:0 14.00px;transform:rotate(-90deg) scaleX(1.0933);">Cantabria</div>
<div class="t hd" style="left:376.00px;top:1953.40px;transform-origin:0 14.00px;transform:rotate(-90deg) scaleX(1.0360);">Castilla y León</div>
<div class="t hd" style="left:402.00px;top:1953.40px;transform-origin:0 14.00px;transform:rotate(-90deg) scaleX(1.0585);">Castilla-La Mancha</div>
<div class="t hd" style="left:434.00px;top:1953.40px;transform-origin:0 14.00px;transform:rotate(-90deg) scaleX(1.0855);">Cataluña</div>
<div class="t hd" style="left:460.00px;top:1953.40px;transform-origin:0 14.00px;transform:rotate(-90deg) scaleX(1.0670);">Ceuta</div>
<div class="t hd" style="left:486.00px;top:1953.40px;transform-origin:0 14.00px;transform:rotate(-90deg) scaleX(1.0820);">Comunidad Valenciana</div>
<div class="t hd" style="left:512.00px;top:1953.40px;transform-origin:0 14.00px;transform:rotate(-90deg) scaleX(1.1046);">Extremadura</div>
<div class="t hd" style="left:538.00px;top:1953.40px;transform-origin:0 14.00px;transform:rotate(-90deg) scaleX(1.0343);">Galicia</div>
<div class="t hd" style="left:564.00px;top:1953.40px;transform-origin:0 14.00px;transform:rotate(-90deg) scaleX(1.0889);">Madrid</div>
<div class="t hd" style="left:591.00px;top:1953.40px;transform-origin:0 14.00px;transform:rotate(-90deg) scaleX(1.0364);">Melilla</div>
<div class="t hd" style="left:617.00px;top:1953.40px;transform-origin:0 14.00px;transform:rotate(-90deg) scaleX(1.0698);">Murcia</div>
<div class="t hd" style="left:643.00px;top:1953.40px;transform-origin:0 14.00px;transform:rotate(-90deg) scaleX(1.0903);">Navarra</div>
<div class="t hd" style="left:669.00px;top:1953.40px;transform-origin:0 14.00px;transform:rotate(-90deg) scaleX(1.0644);">País Vasco</div>
<div class="t hd" style="left:695.00px;top:1953.40px;transform-origin:0 14.00px;transform:rotate(-90deg) scaleX(1.0493);">Rioja</div>
<div class="t cd" style="left:168.20px;top:1997.00px;transform:scaleX(1.0920);">EVA</div>
<div class="t ds" style="left:471.40px;top:2001.00px;transform:scaleX(1.1000);">1</div>
<div class="t fm" style="left:4.80px;top:1977.00px;transform:scaleX(1.1510);">Mantenimiento</div>
<div class="t fm" style="left:4.80px;top:1997.00px;transform:scaleX(1.1599);">de vehículos</div>
<div class="t fm" style="left:4.80px;top:2017.00px;transform:scaleX(1.1632);">autopropulsados<sup>4</sup></div>
<div class="t cd" style="left:168.20px;top:2061.00px;transform:scaleX(1.0129);">PRP</div>
<div class="t ds" style="left:230.10px;top:2065.00px;transform:scaleX(1.3000);">2</div>
<div class="t ds" style="left:445.20px;top:2065.00px;transform:scaleX(1.1000);">1</div>
<div class="t ds" style="left:497.70px;top:2065.00px;transform:scaleX(1.3000);">2</div>
<div class="t ds" style="left:549.90px;top:2065.00px;transform:scaleX(1.1000);">1</div>
<div class="t fm" style="left:4.80px;top:2041.00px;transform:scaleX(1.1510);">Mantenimiento</div>
<div class="t fm" style="left:4.80px;top:2061.00px;transform:scaleX(1.1334);">y servicios a la</div>
<div class="t fm" style="left:4.80px;top:2081.00px;transform:scaleX(1.1654);">producción<sup>4</sup></div>
<div class="t cd" style="left:168.20px;top:2105.00px;transform:scaleX(0.9879);">LACC</div>
<div class="t ds" style="left:256.30px;top:2109.00px;transform:scaleX(1.1000);">1</div>
<div class="t ds" style="left:419.00px;top:2109.00px;transform:scaleX(1.1000);">1</div>
<div class="t ds" style="left:549.90px;top:2109.00px;transform:scaleX(1.1000);">1</div>
<div class="t ds" style="left:628.50px;top:2109.00px;transform:scaleX(1.1000);">1</div>
<div class="t fm" style="left:4.80px;top:2105.00px;transform:scaleX(1.1251);">Química</div>
<div class="t cd" style="left:168.20px;top:2130.00px;transform:scaleX(1.0051);">CAE</div>
<div class="t dd" style="left:282.80px;top:2133.00px;transform:scaleX(1.0800);">3</div>
<div class="t ds" style="left:335.10px;top:2134.00px;transform:scaleX(1.1000);">1</div>
<div class="t ds" style="left:445.20px;top:2134.00px;transform:scaleX(1.1000);">1</div>
<div class="t dd" style="left:497.60px;top:2133.00px;transform:scaleX(1.0600);">5</div>
<div class="t cd" style="left:168.20px;top:2154.00px;transform:scaleX(1.0554);">ES</div>
<div class="t ds" style="left:256.50px;top:2158.00px;transform:scaleX(1.3000);">2</div>
<div class="t ds" style="left:282.70px;top:2158.00px;transform:scaleX(1.1000);">1</div>
<div class="t dd" style="left:309.00px;top:2157.00px;transform:scaleX(1.0800);">3</div>
<div class="t ds" style="left:335.10px;top:2158.00px;transform:scaleX(1.1000);">1</div>
<div class="t ds" style="left:361.20px;top:2158.00px;transform:scaleX(1.1000);">1</div>
<div class="t ds" style="left:388.00px;top:2158.00px;transform:scaleX(1.3000);">2</div>
<div class="t ds" style="left:419.00px;top:2158.00px;transform:scaleX(1.1000);">1</div>
<div class="t ds" style="left:445.20px;top:2158.00px;transform:scaleX(1.1000);">1</div>
<div class="t ds" style="left:471.40px;top:2158.00px;transform:scaleX(1.1000);">1</div>
<div class="t d4" style="left:497.40px;top:2156.00px;transform:scaleX(1.0500);">4</div>
<div class="t ds" style="left:523.70px;top:2158.00px;transform:scaleX(1.1000);">1</div>
<div class="t ds" style="left:550.10px;top:2158.00px;transform:scaleX(1.3000);">2</div>
<div class="t ds" style="left:628.50px;top:2158.00px;transform:scaleX(1.1000);">1</div>
<div class="t ds" style="left:654.40px;top:2158.00px;transform:scaleX(1.1000);">1</div>
<div class="t ds" style="left:680.40px;top:2158.00px;transform:scaleX(1.1000);">1</div>
<div class="t cd" style="left:168.20px;top:2178.00px;transform:scaleX(0.9557);">FP</div>
<div class="t ds" style="left:256.30px;top:2182.00px;transform:scaleX(1.1000);">1</div>
<div class="t dd" style="left:309.00px;top:2181.00px;transform:scaleX(1.0800);">3</div>
<div class="t ds" style="left:335.10px;top:2182.00px;transform:scaleX(1.1000);">1</div>
<div class="t ds" style="left:361.20px;top:2182.00px;transform:scaleX(1.1000);">1</div>
<div class="t ds" style="left:549.90px;top:2182.00px;transform:scaleX(1.1000);">1</div>
<div class="t cd" style="left:168.20px;top:2202.00px;transform:scaleX(1.0023);">D</div>
<div class="t ds" style="left:335.10px;top:2206.00px;transform:scaleX(1.1000);">1</div>
<div class="t ds" style="left:497.50px;top:2206.00px;transform:scaleX(1.1000);">1</div>
<div class="t cd" style="left:168.20px;top:2226.00px;transform:scaleX(1.0355);">DS</div>
<div class="t ds" style="left:497.70px;top:2230.00px;transform:scaleX(1.3000);">2</div>
<div class="t cd" style="left:168.20px;top:2250.00px;transform:scaleX(1.0432);">ID</div>
<div class="t ds" style="left:497.50px;top:2254.00px;transform:scaleX(1.1000);">1</div>
<div class="t cd" style="left:168.20px;top:2274.00px;transform:scaleX(0.9806);">OP</div>
<div class="t ds" style="left:497.50px;top:2278.00px;transform:scaleX(1.1000);">1</div>
<div class="t fm" style="left:4.80px;top:2201.00px;transform:scaleX(1.1432);">Sanidad</div>
<div class="t cd" style="left:168.20px;top:2308.00px;transform:scaleX(1.0051);">ECA</div>
<div class="t ds" style="left:497.50px;top:2312.00px;transform:scaleX(1.1000);">1</div>
<div class="t ds" style="left:549.90px;top:2312.00px;transform:scaleX(1.1000);">1</div>
<div class="t fm" style="left:4.80px;top:2298.00px;transform:scaleX(1.1277);">Seguridad y</div>
<div class="t fm" style="left:4.80px;top:2318.00px;transform:scaleX(1.1617);">medio ambiente</div>
<div class="t cd" style="left:168.20px;top:2342.00px;transform:scaleX(1.0241);">APSD</div>
<div class="t ds" style="left:229.90px;top:2346.00px;transform:scaleX(1.1000);">1</div>
<div class="t ds" style="left:256.50px;top:2346.00px;transform:scaleX(1.3000);">2</div>
<div class="t ds" style="left:282.90px;top:2346.00px;transform:scaleX(1.3000);">2</div>
<div class="t dd" style="left:309.00px;top:2346.00px;transform:scaleX(1.0800);">3</div>
<div class="t ds" style="left:335.10px;top:2346.00px;transform:scaleX(1.1000);">1</div>
<div class="t ds" style="left:361.20px;top:2346.00px;transform:scaleX(1.1000);">1</div>
<div class="t ds" style="left:445.20px;top:2346.00px;transform:scaleX(1.1000);">1</div>
<div class="t dd" style="left:496.50px;top:2346.00px;transform:scaleX(1.0800);">7</div>
<div class="t dd" style="left:550.00px;top:2346.00px;transform:scaleX(1.0800);">3</div>
<div class="t ds" style="left:628.50px;top:2346.00px;transform:scaleX(1.1000);">1</div>
<div class="t ds" style="left:680.40px;top:2346.00px;transform:scaleX(1.1000);">1</div>
<div class="t cd" style="left:168.20px;top:2367.00px;transform:scaleX(1.0717);">AST</div>
<div class="t ds" style="left:497.50px;top:2371.00px;transform:scaleX(1.1000);">1</div>
<div class="t cd" style="left:168.20px;top:2391.00px;transform:scaleX(1.0665);">EI</div>
<div class="t ds" style="left:229.90px;top:2395.00px;transform:scaleX(1.1000);">1</div>
<div class="t ds" style="left:256.50px;top:2395.00px;transform:scaleX(1.3000);">2</div>
<div class="t ds" style="left:282.90px;top:2395.00px;transform:scaleX(1.3000);">2</div>
<div class="t dd" style="left:309.00px;top:2394.00px;transform:scaleX(1.0800);">3</div>
<div class="t ds" style="left:335.10px;top:2395.00px;transform:scaleX(1.1000);">1</div>
<div class="t ds" style="left:361.20px;top:2395.00px;transform:scaleX(1.1000);">1</div>
<div class="t dd" style="left:387.90px;top:2394.00px;transform:scaleX(1.0600);">5</div>
<div class="t d4" style="left:418.90px;top:2393.00px;transform:scaleX(1.0500);">4</div>
<div class="t ds" style="left:445.20px;top:2395.00px;transform:scaleX(1.1000);">1</div>
<div class="t ds" style="left:471.40px;top:2395.00px;transform:scaleX(1.1000);">1</div>
<div class="t dd" style="left:497.60px;top:2394.00px;transform:scaleX(1.0800);">3</div>
<div class="t ds" style="left:523.70px;top:2395.00px;transform:scaleX(1.1000);">1</div>
<div class="t ds" style="left:550.10px;top:2395.00px;transform:scaleX(1.3000);">2</div>
<div class="t dd" style="left:576.30px;top:2394.00px;transform:scaleX(1.0600);">5</div>
<div class="t ds" style="left:602.10px;top:2395.00px;transform:scaleX(1.1000);">1</div>
<div class="t ds" style="left:628.50px;top:2395.00px;transform:scaleX(1.1000);">1</div>
<div class="t ds" style="left:654.40px;top:2395.00px;transform:scaleX(1.1000);">1</div>
<div class="t ds" style="left:680.40px;top:2395.00px;transform:scaleX(1.1000);">1</div>
<div class="t cd" style="left:168.20px;top:2415.00px;transform:scaleX(1.1018);">IS</div>
<div class="t ds" style="left:256.30px;top:2419.00px;transform:scaleX(1.1000);">1</div>
<div class="t ds" style="left:335.10px;top:2419.00px;transform:scaleX(1.1000);">1</div>
<div class="t ds" style="left:445.20px;top:2419.00px;transform:scaleX(1.1000);">1</div>
<div class="t dd" style="left:497.60px;top:2418.00px;transform:scaleX(1.0600);">5</div>
<div class="t fm" style="left:4.80px;top:2358.00px;transform:scaleX(1.1551);">Servicios</div>
<div class="t fm" style="left:4.80px;top:2378.00px;transform:scaleX(1.1543);">socioculturales y</div>
<div class="t fm" style="left:4.80px;top:2398.00px;transform:scaleX(1.1393);">a la comunidad</div>
<div class="t cd" style="left:168.20px;top:2439.00px;transform:scaleX(0.9292);">C</div>
<div class="t ds" style="left:497.50px;top:2443.00px;transform:scaleX(1.1000);">1</div>
<div class="t cd" style="left:168.20px;top:2463.00px;transform:scaleX(1.0920);">EVA</div>
<div class="t ds" style="left:335.10px;top:2467.00px;transform:scaleX(1.1000);">1</div>
<div class="t ds" style="left:361.20px;top:2467.00px;transform:scaleX(1.1000);">1</div>
<div class="t ds" style="left:497.50px;top:2467.00px;transform:scaleX(1.1000);">1</div>
<div class="t cd" style="left:168.20px;top:2487.00px;transform:scaleX(1.0608);">A</div>
<div class="t ds" style="left:497.70px;top:2491.00px;transform:scaleX(1.3000);">2</div>
<div class="t fm" style="left:4.80px;top:2443.00px;transform:scaleX(1.1329);">Transporte y</div>
<div class="t fm" style="left:4.80px;top:2463.00px;transform:scaleX(1.1710);">mantenimiento</div>
<div class="t fm" style="left:4.80px;top:2483.00px;transform:scaleX(1.1599);">de vehículos</div>
</div>
</div>
</body></html>
